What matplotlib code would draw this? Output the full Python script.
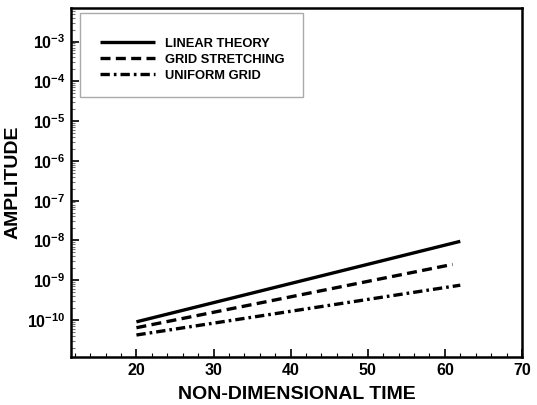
import numpy as np
import matplotlib
matplotlib.use("Agg")
import matplotlib.pyplot as plt
from matplotlib.patches import Rectangle

plt.rcParams['font.family'] = ['Liberation Sans', 'DejaVu Sans']
plt.rcParams['font.weight'] = 'bold'
plt.rcParams['mathtext.fontset'] = 'custom'
plt.rcParams['mathtext.rm'] = 'Liberation Sans:bold'
plt.rcParams['mathtext.bf'] = 'Liberation Sans:bold'
plt.rcParams['mathtext.default'] = 'bf'

# values (straight lines on log axis -> endpoints)
t_linear = [20, 62]
amp_linear = [9.0e-11, 9.5e-9]
t_stretch = [20, 61]
amp_stretch = [6.4e-11, 2.5e-9]
t_uniform = [20, 62]
amp_uniform = [4.2e-11, 7.5e-10]

labels = ['LINEAR THEORY', 'GRID STRETCHING', 'UNIFORM GRID']

fig = plt.figure(figsize=(5.37, 4.05), dpi=100)
ax = fig.add_axes([0.132, 0.1185, 0.840, 0.8625])

lw = 2.4
ax.plot(t_linear, amp_linear, color='black', lw=lw, solid_capstyle='butt', label=labels[0])
ax.plot(t_stretch, amp_stretch, color='black', lw=lw, dashes=(3.0, 1.6), label=labels[1])
ax.plot(t_uniform, amp_uniform, color='black', lw=lw, dashes=(2.8, 1.2, 0.8, 1.2), label=labels[2])

ax.set_yscale('log')
ax.set_xlim(11.5, 70)
ax.set_ylim(10 ** -10.93, 10 ** -2.15)
ax.set_xticks([20, 30, 40, 50, 60, 70])
ax.set_xticks(np.arange(12, 70, 2), minor=True)
ax.set_yticks([10.0 ** k for k in range(-10, -2)])
ax.set_yticklabels([r'$10^{%d}$' % k for k in range(-10, -2)])
ax.yaxis.set_minor_locator(matplotlib.ticker.LogLocator(base=10, subs=np.arange(2, 10), numticks=20))
ax.yaxis.set_minor_formatter(matplotlib.ticker.NullFormatter())

ax.tick_params(which='major', direction='in', length=6, width=1.2, labelsize=11.5, pad=4)
ax.tick_params(which='minor', direction='in', length=3, width=0.8)
ax.tick_params(axis='y', which='minor', colors='#777777')
for s in ax.spines.values():
    s.set_linewidth(1.8)

ax.set_xlabel('NON-DIMENSIONAL TIME', fontsize=14, fontweight='bold', labelpad=6)
ax.set_ylabel('AMPLITUDE', fontsize=14, fontweight='bold', labelpad=4)

# legend frame drawn separately (the box has more room above the entries than below)
ax.add_patch(Rectangle((0.02, 0.744), 0.494, 0.24, transform=ax.transAxes, fill=True,
                       facecolor='white', edgecolor='#aaaaaa', lw=1.0, zorder=4))
leg = ax.legend(loc='center left', bbox_to_anchor=(0.0643, 0.851), frameon=False,
                fontsize=9.3, handlelength=4.3, handletextpad=0.75, borderpad=0,
                labelspacing=0.3, borderaxespad=0)
leg.set_zorder(5)
for txt in leg.get_texts():
    txt.set_fontweight('bold')

fig.savefig('out.png', dpi=100)
